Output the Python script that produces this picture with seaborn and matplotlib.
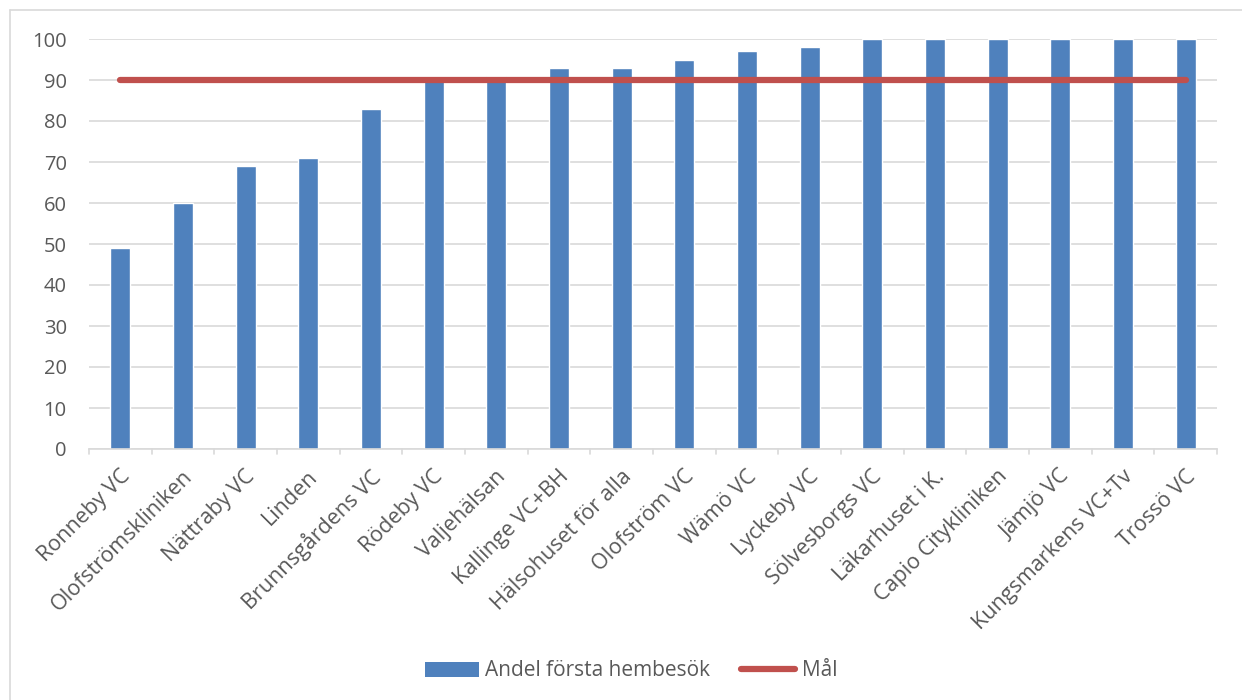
import matplotlib
matplotlib.use("Agg")
import matplotlib.pyplot as plt
import matplotlib.transforms as mtransforms
import seaborn as sns
import pandas as pd
from matplotlib.patches import Patch
from matplotlib.lines import Line2D

categories = [
    "Ronneby VC", "Olofströmskliniken", "Nättraby VC", "Linden",
    "Brunnsgårdens VC", "Rödeby VC", "Valjehälsan", "Kallinge VC+BH",
    "Hälsohuset för alla", "Olofström VC", "Wämö VC", "Lyckeby VC",
    "Sölvesborgs VC", "Läkarhuset i K.", "Capio Citykliniken", "Jämjö VC",
    "Kungsmarkens VC+Tv", "Trossö VC",
]
andel = [49, 60, 69, 71, 83, 90, 91, 93, 93, 95, 97, 98, 100, 100, 100, 100, 100, 100]
mal = [90] * len(categories)
yticks = [0, 10, 20, 30, 40, 50, 60, 70, 80, 90, 100]

bar_color = "#4F81BD"
line_color = "#C0504D"
text_color = "#595959"
grid_color = "#D9D9D9"

sns.set_theme(style="white")
plt.rcParams["font.family"] = ["Open Sans", "DejaVu Sans"]

df = pd.DataFrame({"Enhet": categories, "Andel": andel, "Mål": mal})

W, H = 1242, 700
fig = plt.figure(figsize=(W / 100, H / 100), dpi=100)
ax = fig.add_axes([89 / W, 1 - 449 / H, (1217 - 89) / W, (449 - 39) / H])

sns.barplot(data=df, x="Enhet", y="Andel", color=bar_color, width=0.32,
            saturation=1, ax=ax, zorder=2)
ax.plot(range(len(categories)), df["Mål"], color=line_color, lw=4.5,
        solid_capstyle="round", zorder=3)

ax.set_xlim(-0.5, len(categories) - 0.5)
ax.set_ylim(0, 100)
ax.set_yticks(yticks)
ax.set_yticklabels([str(v) for v in yticks], fontsize=14.5, color=text_color)
ax.yaxis.grid(True, color=grid_color, lw=1.2, zorder=0)
ax.set_axisbelow(True)
ax.tick_params(axis="y", length=0, pad=16)

ax.set_xticks(range(len(categories)))
ax.set_xticklabels(categories, rotation=45, ha="right", va="top",
                   rotation_mode="anchor", fontsize=15.5, color=text_color)
ax.tick_params(axis="x", length=0, pad=10)
shift = mtransforms.ScaledTranslation(-1 / 100, -3 / 100, fig.dpi_scale_trans)
for lbl in ax.get_xticklabels():
    lbl.set_transform(lbl.get_transform() + shift)

# boundary tick marks between categories
for b in [i - 0.5 for i in range(len(categories) + 1)]:
    ax.plot([b, b], [0, -1.3], color=grid_color, lw=1.2, clip_on=False, zorder=1)

ax.set_xlabel("")
ax.set_ylabel("")
for side in ["top", "right", "left"]:
    ax.spines[side].set_visible(False)
ax.spines["bottom"].set_color(grid_color)
ax.spines["bottom"].set_linewidth(1.2)

# outer chart frame
fig.add_artist(Line2D([10 / W, 10 / W], [0, 1 - 10 / H], color=grid_color,
                      lw=1.2, transform=fig.transFigure))
fig.add_artist(Line2D([10 / W, 1], [1 - 10 / H, 1 - 10 / H], color=grid_color,
                      lw=1.2, transform=fig.transFigure))

handles = [
    Patch(facecolor=bar_color, edgecolor="none", label="Andel första hembesök"),
    Line2D([0], [0], color=line_color, lw=4.5, solid_capstyle="round", label="Mål"),
]
fig.legend(handles=handles, loc="center", bbox_to_anchor=(0.508, 1 - 671 / H),
           ncol=2, frameon=False, fontsize=15, labelcolor=text_color,
           handlelength=2.6, handleheight=0.7, handletextpad=0.3,
           columnspacing=1.5)

fig.savefig("out.png", dpi=100, facecolor="white")
